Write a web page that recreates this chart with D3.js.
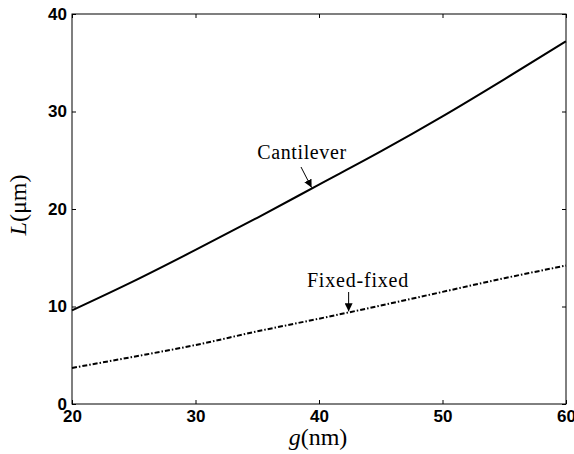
<!DOCTYPE html>
<html>
<head>
<meta charset="utf-8">
<script src="https://cdn.jsdelivr.net/npm/d3@7"></script>
<style>
  body { margin: 0; background: #fff; }
  svg { display: block; }
</style>
</head>
<body>
<svg id="chart" width="574" height="454"></svg>
<script>
const gValues = [20, 25, 30, 35, 40, 45, 50, 55, 60];
const cantilever = [9.6, 12.6, 15.8, 19.1, 22.5, 25.9, 29.5, 33.3, 37.2];
const fixedFixed = [3.7, 4.85, 6.05, 7.45, 8.75, 10.1, 11.5, 12.9, 14.2];
const xTicks = [20, 30, 40, 50, 60];
const yTicks = [0, 10, 20, 30, 40];
const annotations = [
  { text: "Cantilever", series: "cantilever", g: 39.4 },
  { text: "Fixed-fixed", series: "fixed", g: 42.4 }
];

(function () {
const svg = d3.select("#chart");
const mLeft = 72, mRight = 566, mTop = 14, mBottom = 404;

const x = d3.scaleLinear().domain([20, 60]).range([mLeft, mRight]);
const y = d3.scaleLinear().domain([0, 40]).range([mBottom, mTop]);

svg.append("rect").attr("x", mLeft).attr("y", mTop)
  .attr("width", mRight - mLeft).attr("height", mBottom - mTop)
  .attr("fill", "none").attr("stroke", "#000").attr("stroke-width", 1);

const tickFont = "'Liberation Sans', Arial, sans-serif";

const xAxis = svg.append("g").attr("transform", `translate(0,${mBottom})`)
  .call(d3.axisBottom(x).tickValues(xTicks).tickSizeInner(-4).tickSizeOuter(0).tickPadding(6));
const xAxisTop = svg.append("g").attr("transform", `translate(0,${mTop})`)
  .call(d3.axisTop(x).tickValues(xTicks).tickSizeInner(-4).tickSizeOuter(0).tickFormat(""));
const yAxis = svg.append("g").attr("transform", `translate(${mLeft},0)`)
  .call(d3.axisLeft(y).tickValues(yTicks).tickSizeInner(-4).tickSizeOuter(0).tickPadding(5));
const yAxisRight = svg.append("g").attr("transform", `translate(${mRight},0)`)
  .call(d3.axisRight(y).tickValues(yTicks).tickSizeInner(-4).tickSizeOuter(0).tickFormat(""));

[xAxis, xAxisTop, yAxis, yAxisRight].forEach(a => {
  a.select(".domain").remove();
  a.selectAll("line").attr("stroke", "#000").attr("stroke-width", 1);
  a.selectAll("text").attr("fill", "#000")
    .style("font-family", tickFont).style("font-size", "17px").style("font-weight", "bold");
});

const lineGen = arr => d3.line()
  .x((d, i) => x(gValues[i]))
  .y(d => y(d))
  .curve(d3.curveMonotoneX)(arr);

svg.append("path").attr("d", lineGen(cantilever))
  .attr("fill", "none").attr("stroke", "#000").attr("stroke-width", 2);
svg.append("path").attr("d", lineGen(fixedFixed))
  .attr("fill", "none").attr("stroke", "#000").attr("stroke-width", 2)
  .attr("stroke-dasharray", "5,2,1.5,2");

const interp = (arr, g) => {
  const i = Math.min(gValues.length - 2, Math.floor((g - gValues[0]) / 5));
  const t = (g - gValues[i]) / (gValues[i + 1] - gValues[i]);
  return arr[i] + t * (arr[i + 1] - arr[i]);
};

svg.append("defs").append("marker")
  .attr("id", "arrowhead").attr("viewBox", "0 0 10 10")
  .attr("refX", 10).attr("refY", 5)
  .attr("markerWidth", 8).attr("markerHeight", 8)
  .attr("markerUnits", "userSpaceOnUse")
  .attr("orient", "auto")
  .append("path").attr("d", "M0,0 L10,5 L0,10 Z").attr("fill", "#000");

const serif = "'Liberation Serif', 'Times New Roman', serif";

{
  const a = annotations[0];
  const tx = x(a.g), ty = y(interp(cantilever, a.g));
  svg.append("text").attr("x", 302).attr("y", 159).attr("text-anchor", "middle")
    .style("font-family", serif).style("font-size", "20px").style("letter-spacing", "0.6px").text(a.text);
  svg.append("line").attr("x1", 301).attr("y1", 167).attr("x2", tx).attr("y2", ty - 1)
    .attr("stroke", "#000").attr("stroke-width", 1).attr("marker-end", "url(#arrowhead)");
}
{
  const a = annotations[1];
  const tx = x(a.g), ty = y(interp(fixedFixed, a.g));
  svg.append("text").attr("x", 358).attr("y", 287).attr("text-anchor", "middle")
    .style("font-family", serif).style("font-size", "20px").style("letter-spacing", "0.8px").text(a.text);
  svg.append("line").attr("x1", tx).attr("y1", 292).attr("x2", tx).attr("y2", ty - 1)
    .attr("stroke", "#000").attr("stroke-width", 1).attr("marker-end", "url(#arrowhead)");
}

const xt = svg.append("text").attr("x", 318).attr("y", 445).attr("text-anchor", "middle")
  .style("font-family", serif).style("font-size", "24px");
xt.append("tspan").style("font-style", "italic").text("g");
xt.append("tspan").text("(nm)");

const yt = svg.append("text").attr("transform", "translate(26,205) rotate(-90)")
  .attr("text-anchor", "middle")
  .style("font-family", serif).style("font-size", "24px");
yt.append("tspan").style("font-style", "italic").text("L");
yt.append("tspan").text("(μm)");
})();
</script>
</body>
</html>
